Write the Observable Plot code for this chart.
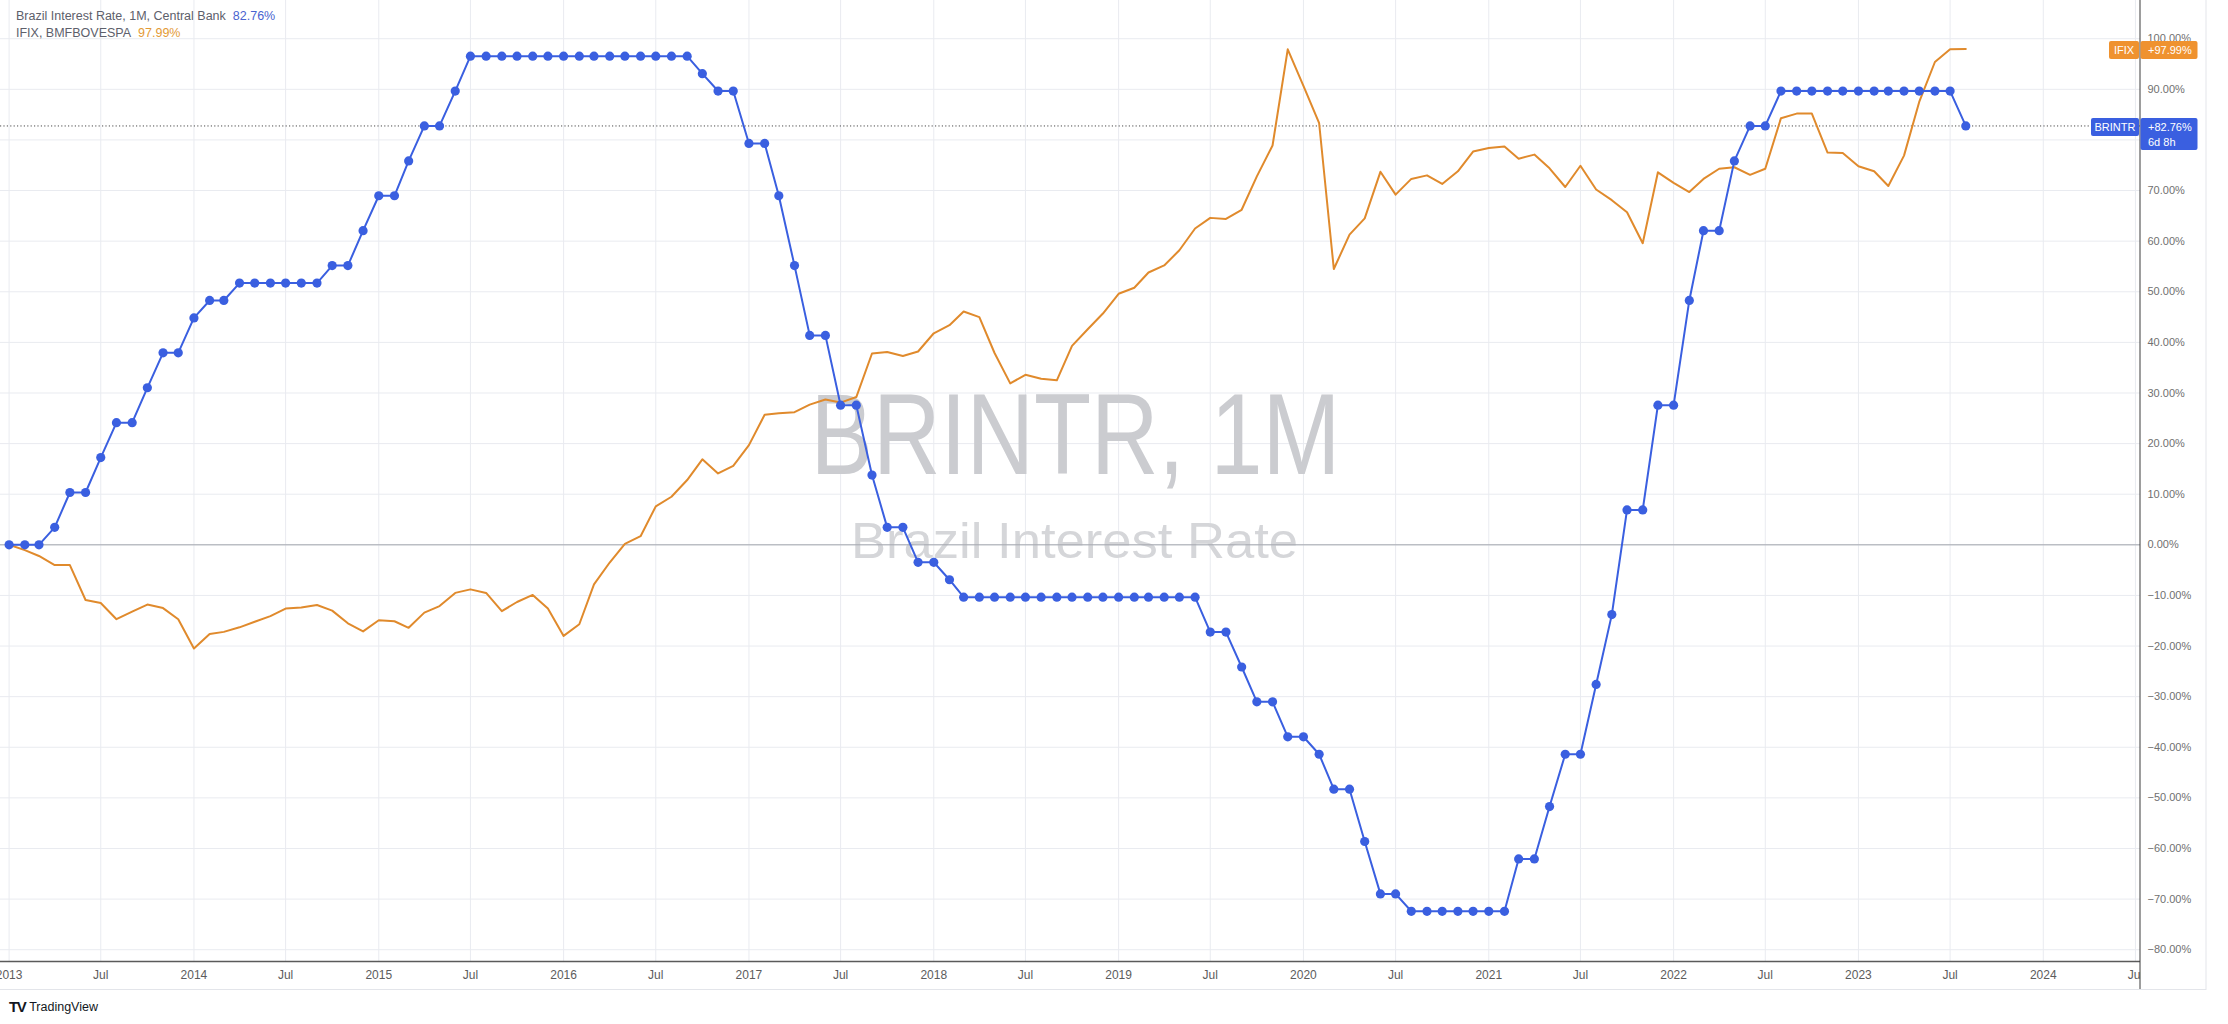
<!DOCTYPE html>
<html>
<head>
<meta charset="utf-8">
<script src="https://cdn.jsdelivr.net/npm/d3@7"></script>
<script src="https://cdn.jsdelivr.net/npm/@observablehq/plot@0.6"></script>
<style>
  html, body { margin: 0; padding: 0; background: #fff; }
  body { width: 2228px; height: 1024px; overflow: hidden; position: relative;
         font-family: "Liberation Sans", Arial, sans-serif; }
  #chart { position: absolute; left: 0; top: 0; }
  #legend { position: absolute; left: 16px; top: 8px; font-size: 12.5px; line-height: 17px; color: #5d606b; }
  #legend .v { margin-left: 7px; }
  #brand { position: absolute; left: 9px; top: 998px; font-size: 12.5px; color: #131722; display: flex; align-items: center; }
  #brand .logo { font-weight: bold; font-size: 15px; letter-spacing: -1.5px; margin-right: 4px; color: #131722; }
</style>
</head>
<body>
<div id="chart"></div>
<div id="legend"></div>
<div id="brand"><span class="logo">TV</span><span>TradingView</span></div>
<script>
// ---------- data (percent change since Jan 2013, monthly Jan 2013 .. Aug 2023) ----------
const startMonth = "2013-01";
const brintrName = "Brazil Interest Rate, 1M, Central Bank";
const ifixName = "IFIX, BMFBOVESPA";
const brintrValues = [
  0, 0, 0, 3.45, 10.34, 10.34, 17.24, 24.14, 24.14, 31.03, 37.93, 37.93,            // 2013
  44.83, 48.28, 48.28, 51.72, 51.72, 51.72, 51.72, 51.72, 51.72, 55.17, 55.17, 62.07, // 2014
  68.97, 68.97, 75.86, 82.76, 82.76, 89.66, 96.55, 96.55, 96.55, 96.55, 96.55, 96.55, // 2015
  96.55, 96.55, 96.55, 96.55, 96.55, 96.55, 96.55, 96.55, 96.55, 93.10, 89.66, 89.66, // 2016
  79.31, 79.31, 68.97, 55.17, 41.38, 41.38, 27.59, 27.59, 13.79, 3.45, 3.45, -3.45,   // 2017
  -3.45, -6.90, -10.34, -10.34, -10.34, -10.34, -10.34, -10.34, -10.34, -10.34, -10.34, -10.34, // 2018
  -10.34, -10.34, -10.34, -10.34, -10.34, -10.34, -17.24, -17.24, -24.14, -31.03, -31.03, -37.93, // 2019
  -37.93, -41.38, -48.28, -48.28, -58.62, -68.97, -68.97, -72.41, -72.41, -72.41, -72.41, -72.41, // 2020
  -72.41, -72.41, -62.07, -62.07, -51.72, -41.38, -41.38, -27.59, -13.79, 6.90, 6.90, 27.59,     // 2021
  27.59, 48.28, 62.07, 62.07, 75.86, 82.76, 82.76, 89.66, 89.66, 89.66, 89.66, 89.66,           // 2022
  89.66, 89.66, 89.66, 89.66, 89.66, 89.66, 89.66, 82.76                                        // 2023
];
const ifixValues = [
  0, -1.05, -2.2, -4.0, -4.0, -10.9, -11.5, -14.7, -13.2, -11.8, -12.5, -14.7,        // 2013
  -20.5, -17.6, -17.2, -16.3, -15.2, -14.1, -12.6, -12.4, -11.9, -13.0, -15.5, -17.1, // 2014
  -14.9, -15.1, -16.4, -13.4, -12.1, -9.5, -8.8, -9.5, -13.1, -11.3, -9.9, -12.6,     // 2015
  -18.0, -15.7, -7.8, -3.5, 0.2, 1.7, 7.6, 9.5, 12.8, 16.9, 14.1, 15.6,               // 2016
  19.7, 25.7, 26.0, 26.2, 27.7, 28.7, 28.1, 29.2, 37.8, 38.1, 37.3, 38.2,             // 2017
  41.8, 43.4, 46.1, 45.0, 37.9, 31.9, 33.6, 32.8, 32.5, 39.3, 42.6, 45.7,             // 2018
  49.6, 50.8, 53.8, 55.2, 58.2, 62.5, 64.6, 64.4, 66.2, 72.8, 78.9, 97.9,             // 2019
  90.7, 83.3, 54.5, 61.3, 64.5, 73.7, 69.2, 72.3, 73.0, 71.3, 73.8, 77.7,             // 2020
  78.4, 78.7, 76.3, 77.1, 74.4, 70.7, 74.9, 70.2, 68.1, 65.7, 59.6, 73.6,             // 2021
  71.5, 69.7, 72.3, 74.3, 74.6, 73.1, 74.3, 84.3, 85.2, 85.2, 77.5, 77.4,             // 2022
  74.8, 73.8, 70.9, 76.9, 87.5, 95.4, 97.9, 97.99                                     // 2023
];
const yTicks = [-80, -70, -60, -50, -40, -30, -20, -10, 0, 10, 20, 30, 40, 50, 60, 70, 80, 90, 100];
const xTickMonths = ["2013-01","2013-07","2014-01","2014-07","2015-01","2015-07","2016-01","2016-07",
  "2017-01","2017-07","2018-01","2018-07","2019-01","2019-07","2020-01","2020-07",
  "2021-01","2021-07","2022-01","2022-07","2023-01","2023-07","2024-01","2024-07"];
const xTickLabels = ["2013","Jul","2014","Jul","2015","Jul","2016","Jul","2017","Jul","2018","Jul",
  "2019","Jul","2020","Jul","2021","Jul","2022","Jul","2023","Jul","2024","Jul"];
const watermarkTitle = ["BRINTR, 1M"];
const watermarkSubtitle = ["Brazil Interest Rate"];
const countdown = "6d 8h";

// ---------- build tables ----------
const [sy, sm] = startMonth.split("-").map(Number);
const monthDate = i => new Date(Date.UTC(sy, sm - 1 + i, 1));
const brintr = brintrValues.map((v, i) => ({date: monthDate(i), value: v}));
const ifix = ifixValues.map((v, i) => ({date: monthDate(i), value: v}));
const xTicks = xTickMonths.map(s => new Date(s + "-01"));
const labelMap = new Map(xTicks.map((d, i) => [+d, xTickLabels[i]]));
const lastB = brintrValues[brintrValues.length - 1];
const lastI = ifixValues[ifixValues.length - 1];

const BLUE = "#3a5fe0", ORANGE = "#e08a2c", ORANGE_TAG = "#ef922f";
const fmtPct = d => (d < 0 ? "\u2212" : "") + Math.abs(d).toFixed(2) + "%";
const fmtSigned = d => (d < 0 ? "\u2212" : "+") + Math.abs(d).toFixed(2) + "%";

const W = 2228, H = 990, plotRight = 2140, plotBottom = 961;
const yDomain = [-82.33, 107.55];

const plot = Plot.plot({
  width: W, height: H,
  marginLeft: 0, marginRight: W - plotRight, marginTop: 0, marginBottom: H - plotBottom,
  style: {background: "transparent", fontFamily: "'Liberation Sans', Arial, sans-serif"},
  x: {type: "utc", domain: [new Date("2012-12-15"), new Date("2024-07-11")], label: null},
  y: {domain: yDomain, label: null},
  marks: [
    Plot.gridY({ticks: yTicks, stroke: "#e9ebf0", strokeOpacity: 1}),
    Plot.gridX({ticks: xTicks, stroke: "#e9ebf0", strokeOpacity: 1}),
    Plot.text(watermarkTitle, {text: d => d, frameAnchor: "middle", dx: 5, dy: -44, fontSize: 115, fill: "#cbccd0", lineAnchor: "middle"}),
    Plot.text(watermarkSubtitle, {text: d => d, frameAnchor: "middle", dx: 4, dy: 61, fontSize: 50, fill: "#d5d6d9", lineAnchor: "middle"}),
    Plot.ruleY([0], {stroke: "#a4a7ae"}),
    Plot.ruleY([lastB], {stroke: "#4a4a4a", strokeDasharray: "1.2,2.2"}),
    Plot.line(ifix, {x: "date", y: "value", stroke: ORANGE, strokeWidth: 2}),
    Plot.line(brintr, {x: "date", y: "value", stroke: BLUE, strokeWidth: 2}),
    Plot.dot(brintr, {x: "date", y: "value", r: 4.6, fill: BLUE}),
    Plot.ruleY([yDomain[0]], {stroke: "#5a5a5a", strokeWidth: 1.5}),
    Plot.axisX({ticks: xTicks, tickSize: 0, tickPadding: 9, tickFormat: d => labelMap.get(+d), fontSize: 12, color: "#5c5c5c", label: null}),
    Plot.axisY({anchor: "right", ticks: yTicks, tickSize: 0, tickPadding: 7, tickFormat: fmtPct, fontSize: 11, color: "#707070", label: null})
  ]
});
document.getElementById("chart").appendChild(plot);

const svg = d3.select(plot);
// squeeze watermark texts to the reference widths
svg.selectAll("text").filter(function() { return this.textContent === watermarkTitle[0]; })
  .attr("textLength", 530).attr("lengthAdjust", "spacingAndGlyphs");
svg.selectAll("text").filter(function() { return this.textContent === watermarkSubtitle[0]; })
  .attr("textLength", 447).attr("lengthAdjust", "spacingAndGlyphs");

// clip x labels at the price axis, draw panel borders
svg.append("rect").attr("x", plotRight + 0.5).attr("y", plotBottom + 1).attr("width", 66).attr("height", H - plotBottom - 2).attr("fill", "#fff");
svg.append("line").attr("x1", plotRight).attr("x2", plotRight).attr("y1", 0).attr("y2", H).attr("stroke", "#3c3c3c").attr("stroke-width", 1);
svg.append("line").attr("x1", 2206).attr("x2", 2206).attr("y1", 0).attr("y2", H).attr("stroke", "#e3e5ea");
svg.append("line").attr("x1", 0).attr("x2", 2206).attr("y1", H - 0.5).attr("y2", H - 0.5).attr("stroke", "#e3e5ea");

// price tags on the axis
const ys = plot.scale("y");
function tag(value, name, lines, color, nameW, valueH) {
  const yc = ys.apply(value) + 1.5;
  const g = svg.append("g").attr("font-family", "'Liberation Sans', Arial, sans-serif")
    .attr("font-size", 11).attr("fill", "#fff").attr("text-anchor", "start");
  g.append("rect").attr("x", plotRight - nameW).attr("y", yc - 9).attr("width", nameW - 1).attr("height", 18).attr("rx", 2).attr("fill", color);
  g.append("text").attr("x", plotRight - nameW / 2 - 0.5).attr("y", yc + 4).attr("text-anchor", "middle").text(name);
  g.append("rect").attr("x", plotRight + 0.5).attr("y", yc - 9).attr("width", 57).attr("height", valueH).attr("rx", 2).attr("fill", color);
  lines.forEach((t, i) => g.append("text").attr("x", plotRight + 8).attr("y", yc + 4 + i * 15).attr("text-anchor", "start").text(t));
}
tag(lastI, "IFIX", [fmtSigned(lastI)], ORANGE_TAG, 31, 18);
tag(lastB, "BRINTR", [fmtSigned(lastB), countdown], BLUE, 49, 32);

// legend (top-left, overlaid)
const legend = d3.select("#legend");
const l1 = legend.append("div"); l1.append("span").text(brintrName);
l1.append("span").attr("class", "v").style("color", "#4a63cf").text(lastB.toFixed(2) + "%");
const l2 = legend.append("div"); l2.append("span").text(ifixName);
l2.append("span").attr("class", "v").style("color", "#e39a36").text(lastI.toFixed(2) + "%");
</script>
</body>
</html>
